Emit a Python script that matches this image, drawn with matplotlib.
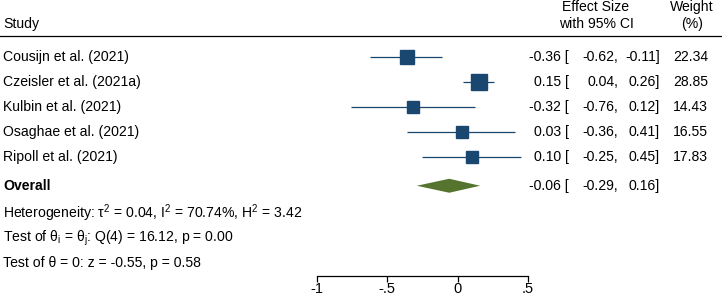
import matplotlib
matplotlib.use('Agg')
import matplotlib.pyplot as plt
import matplotlib.transforms as mtransforms
from matplotlib.lines import Line2D
from matplotlib.patches import Polygon
import numpy as np

plt.rcParams['font.family'] = ['Liberation Sans', 'DejaVu Sans']
plt.rcParams['mathtext.fontset'] = 'custom'
plt.rcParams['mathtext.rm'] = 'Liberation Sans'
plt.rcParams['mathtext.it'] = 'Liberation Sans:italic'

# data
studies = ['Cousijn et al. (2021)', 'Czeisler et al. (2021a)', 'Kulbin et al. (2021)',
           'Osaghae et al. (2021)', 'Ripoll et al. (2021)']
est = [-0.36, 0.15, -0.32, 0.03, 0.10]
lo = [-0.62, 0.04, -0.76, -0.36, -0.25]
hi = [-0.11, 0.26, 0.12, 0.41, 0.45]
weight = [22.34, 28.85, 14.43, 16.55, 17.83]
overall = (-0.06, -0.29, 0.16)
stats = ['Heterogeneity: \u03c4$^{\\mathrm{2}}$ = 0.04, I$^{\\mathrm{2}}$ = 70.74%, H$^{\\mathrm{2}}$ = 3.42',
         'Test of \u03b8$_{\\mathrm{i}}$ = \u03b8$_{\\mathrm{j}}$: Q(4) = 16.12, p = 0.00',
         'Test of \u03b8 = 0: z = -0.55, p = 0.58']
xticks = [-1, -0.5, 0, 0.5]
xticklabels = ['-1', '-.5', '0', '.5']

navy = '#1a476f'
green = '#55752f'

W, H = 722, 296
fig = plt.figure(figsize=(W / 100, H / 100), dpi=100)

def px(x):
    return x / W

# forest axes: bottom spine is the effect axis
ax = fig.add_axes([px(317), 1 - 276 / H, px(528 - 317), (276 - 36) / H])
ax.set_xlim(-1, 0.5)
ax.set_ylim(8.76, -0.84)
for s in ['top', 'left', 'right']:
    ax.spines[s].set_visible(False)
ax.spines['bottom'].set_linewidth(0.9)
ax.set_yticks([])
ax.set_xticks(xticks)
ax.set_xticklabels(xticklabels, fontsize=10.5)
ax.tick_params(axis='x', direction='out', length=4, width=0.9, pad=0.5)
ax.patch.set_alpha(0)

rows = np.arange(len(studies))
overall_row = 5.15
stat_rows = [6.25, 7.25, 8.25]

for r, e, l, h, w in zip(rows, est, lo, hi, weight):
    ax.plot([l, h], [r, r], color=navy, lw=0.9, solid_capstyle='butt')
    ax.plot(e, r, marker='s', color=navy, ms=2.1 * np.sqrt(w), mec=navy)

oe, ol, oh = overall
dh = 0.28
ax.add_patch(Polygon([(ol, overall_row), (oe, overall_row - dh), (oh, overall_row), (oe, overall_row + dh)],
                     closed=True, color=green, lw=0))

tr = mtransforms.blended_transform_factory(fig.transFigure, ax.transData)
fs = 10.1

# header
fig.text(px(3), 1 - 24 / H, 'Study', fontsize=fs, va='center', ha='left')
fig.text(px(596), 1 - 7 / H, 'Effect Size', fontsize=fs, va='center', ha='center')
fig.text(px(596), 1 - 24 / H, 'with 95% CI', fontsize=fs, va='center', ha='center')
fig.text(px(692), 1 - 7 / H, 'Weight', fontsize=fs, va='center', ha='center')
fig.text(px(692), 1 - 24 / H, '(%)', fontsize=fs, va='center', ha='center')
fig.add_artist(Line2D([0, 1], [1 - 36 / H, 1 - 36 / H], color='black', lw=0.9, transform=fig.transFigure))

for r, name, e, l, h, w in zip(rows, studies, est, lo, hi, weight):
    fig.text(px(3), r, name, transform=tr, fontsize=fs, va='center', ha='left')
    fig.text(px(569), r, f'{e:.2f} [', transform=tr, fontsize=fs, va='center', ha='right')
    fig.text(px(618), r, f'{l:.2f},', transform=tr, fontsize=fs, va='center', ha='right')
    fig.text(px(660), r, f'{h:.2f}]', transform=tr, fontsize=fs, va='center', ha='right')
    fig.text(px(708), r, f'{w:.2f}', transform=tr, fontsize=fs, va='center', ha='right')

fig.text(px(3), overall_row, 'Overall', transform=tr, fontsize=fs, va='center', ha='left', fontweight='bold')
fig.text(px(569), overall_row, f'{oe:.2f} [', transform=tr, fontsize=fs, va='center', ha='right')
fig.text(px(618), overall_row, f'{ol:.2f},', transform=tr, fontsize=fs, va='center', ha='right')
fig.text(px(660), overall_row, f'{oh:.2f}]', transform=tr, fontsize=fs, va='center', ha='right')

for r, s in zip(stat_rows, stats):
    fig.text(px(3), r, s, transform=tr, fontsize=fs, va='center', ha='left')

fig.savefig('out.png', dpi=100)
